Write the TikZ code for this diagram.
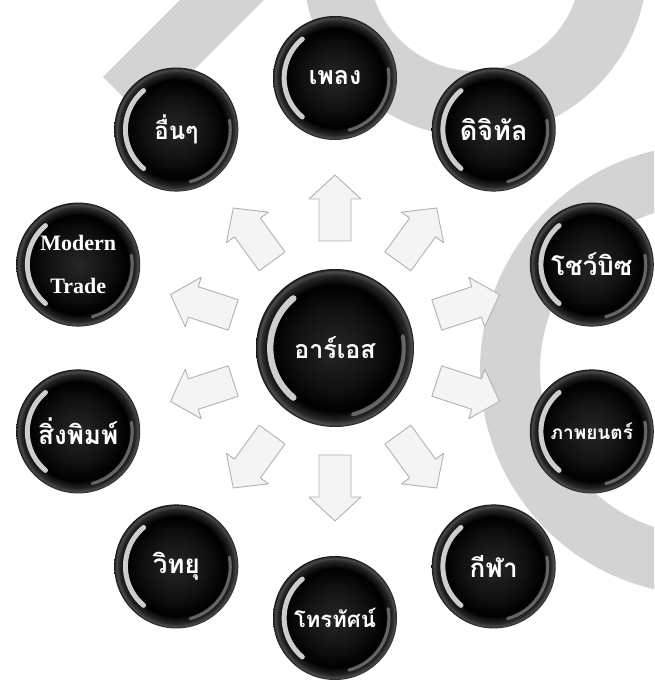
\documentclass[tikz,border=0pt]{standalone}
\usepackage{fontspec}
\usetikzlibrary{calc}
\newfontfamily\thaifont[Script=Thai]{Loma}
\newfontfamily\latinserif{Liberation Serif}
\definecolor{bggray}{RGB}{211,211,211}
\pgfdeclareradialshading{sph}{\pgfpointorigin}{color(0bp)=(black!85); color(12bp)=(black!93); color(20bp)=(black); color(23bp)=(black!85); color(24.2bp)=(black!70); color(25bp)=(black!92); color(50bp)=(black)}
\tikzset{
  ball/.style={circle, inner sep=0pt, minimum size=2*#1, shading=sph, text=white, align=center,
    path picture={
      \draw[white, opacity=.8, line width=0.08*#1, line cap=round]
        ([shift={(130:0.82*#1)}]path picture bounding box.center) arc[start angle=130, end angle=230, radius=0.82*#1];
      \draw[white, opacity=.35, line width=0.05*#1, line cap=round]
        ([shift={(-75:0.87*#1)}]path picture bounding box.center) arc[start angle=-75, end angle=10, radius=0.87*#1];
    }},
  thai/.style={font=\thaifont\bfseries\fontsize{#1}{#1}\selectfont},
  blockarrow/.style={fill=gray!9, draw=gray!60, line width=0.9pt, line join=round},
}
\begin{document}
\begin{tikzpicture}[x=1pt,y=1pt]
\useasboundingbox (0,0) rectangle (654,682);
\fill[white] (0,0) rectangle (654,682);
% background decorative bands
\begin{scope}
  \clip (0,0) rectangle (654,682);
  \fill[bggray] (103,605) -- (145,563) -- (305,723) -- (263,765) -- cycle;
  \fill[bggray, even odd rule] (475,717) circle[radius=172] (475,717) circle[radius=106];
  \fill[bggray, even odd rule] (705,312) circle[radius=225] (705,312) circle[radius=165];
\end{scope}
% block arrows
\foreach \ang in {90,54,18,-18,-54,-90,-126,-162,162,126}{
  \draw[blockarrow, shift={({335+140*cos(\ang)},{334+140*sin(\ang)})}, rotate=\ang]
    (-33,-16) -- (9,-16) -- (9,-26) -- (33,0) -- (9,26) -- (9,16) -- (-33,16) -- cycle;
}
% centre
\node[ball=79pt, thai=25] (c) at (335,334) {อาร์เอส};
% outer spheres
\node[ball=62pt, thai=25] (n1) at ($(c)+(90:270)$) {เพลง};
\node[ball=62pt, thai=27] (n2) at ($(c)+(54:270)$) {ดิจิทัล};
\node[ball=62pt, thai=26] (n3) at ($(c)+(18:270)$) {โชว์บิซ};
\node[ball=62pt, thai=19] (n4) at ($(c)+(-18:270)$) {ภาพยนตร์};
\node[ball=62pt, thai=26] (n5) at ($(c)+(-54:270)$) {กีฬา};
\node[ball=62pt, thai=22] (n6) at ($(c)+(-90:270)$) {โทรทัศน์};
\node[ball=62pt, thai=26] (n7) at ($(c)+(-126:270)$) {วิทยุ};
\node[ball=62pt, thai=26] (n8) at ($(c)+(-162:270)$) {สิ่งพิมพ์};
\node[ball=62pt, font=\latinserif\bfseries\fontsize{22}{43}\selectfont] (n9) at ($(c)+(162:270)$) {Modern\\Trade};
\node[ball=62pt, thai=24] (n10) at ($(c)+(126:270)$) {อื่นๆ};
\end{tikzpicture}
\end{document}
